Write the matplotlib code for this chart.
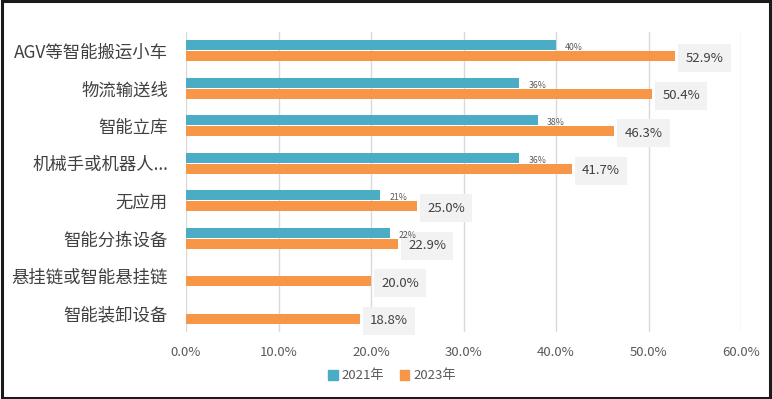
import matplotlib
matplotlib.use("Agg")
import matplotlib.pyplot as plt
from matplotlib.patches import Rectangle
import numpy as np

plt.rcParams['font.family'] = ['Noto Sans CJK SC', 'DejaVu Sans']

# data
categories = ['AGV等智能搬运小车', '物流输送线', '智能立库', '机械手或机器人...',
              '无应用', '智能分拣设备', '悬挂链或智能悬挂链', '智能装卸设备']
vals_2021 = [40, 36, 38, 36, 21, 22, None, None]
vals_2023 = [52.9, 50.4, 46.3, 41.7, 25.0, 22.9, 20.0, 18.8]
xticks = [0, 10, 20, 30, 40, 50, 60]

blue = '#4BACC6'
orange = '#F79646'

fig = plt.figure(figsize=(7.72, 3.99), dpi=100)
ax = fig.add_axes([186 / 772, 1 - 332 / 399, (741 - 186) / 772, 300 / 399])

y = np.arange(len(categories))
h = 0.265

# 2021 bars (some categories have no 2021 value)
for i, v in enumerate(vals_2021):
    if v is None:
        continue
    ax.barh(y[i] - h / 2 - 0.01, v, height=h, color=blue, zorder=2)
    ax.text(v + 1.0, y[i] - 0.08, f'{v}%', fontsize=6.3, color='#595959',
            va='center', ha='left', zorder=5)

for i, v in enumerate(vals_2023):
    ax.barh(y[i] + h / 2 + 0.01, v, height=h, color=orange, zorder=2)
    ax.text(v + 1.1, y[i] + 0.2, f'{v:.1f}%', fontsize=9.5, color='#404040',
            va='center', ha='left', zorder=3,
            bbox=dict(boxstyle='square,pad=0.55', fc='#F2F2F2', ec='none'))

ax.set_xlim(0, 60)
ax.set_ylim(len(categories) - 0.5, -0.5)
ax.set_xticks(xticks)
ax.set_xticklabels([f'{t:.1f}%' for t in xticks], fontsize=9.5, color='#595959')
ax.set_yticks(y)
ax.set_yticklabels(categories, fontsize=12.5, color='#404040')
ax.tick_params(axis='y', length=0, pad=13)
ax.tick_params(axis='x', length=0, pad=10)
ax.grid(axis='x', color='#D9D9D9', linewidth=1, zorder=0)
for s in ax.spines.values():
    s.set_visible(False)

# legend
handles = [Rectangle((0, 0), 1, 1, color=blue), Rectangle((0, 0), 1, 1, color=orange)]
fig.legend(handles, ['2021年', '2023年'], loc='center', bbox_to_anchor=(0.508, 1 - 376 / 399),
           ncol=2, frameon=False, fontsize=9.5, handlelength=0.7, handleheight=0.7,
           handletextpad=0.3, columnspacing=1.2, labelcolor='#595959')

# dark frame around the whole picture
fig.patches.append(Rectangle((0.002, 0.003), 0.995, 0.994, transform=fig.transFigure,
                             fill=False, ec='#1A1A1A', lw=2.2))

fig.savefig('out.png', dpi=100)
